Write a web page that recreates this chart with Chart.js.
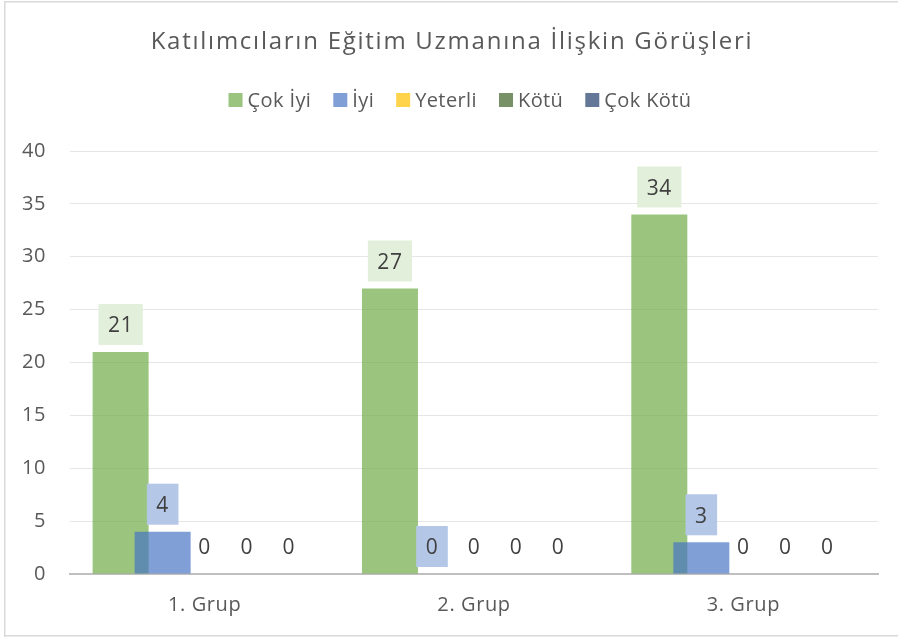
<!DOCTYPE html>
<html>
<head>
<meta charset="utf-8">
<script src="https://cdn.jsdelivr.net/npm/chart.js@4/dist/chart.umd.min.js"></script>
<style>
  html, body { margin: 0; padding: 0; background: #ffffff; }
  #wrap { position: relative; width: 898px; height: 638px; }
</style>
</head>
<body>
<div id="wrap"><canvas id="c" width="898" height="638"></canvas></div>
<script>
const chartTitle = "Katılımcıların Eğitim Uzmanına İlişkin Görüşleri";
const categories = ["1. Grup", "2. Grup", "3. Grup"];
const seriesNames = ["Çok İyi", "İyi", "Yeterli", "Kötü", "Çok Kötü"];
const cokIyi = [21, 27, 34];
const iyi = [4, 0, 3];
const yeterli = [0, 0, 0];
const kotu = [0, 0, 0];
const cokKotu = [0, 0, 0];
const yTicks = [0, 5, 10, 15, 20, 25, 30, 35, 40];

const FONT = "'Open Sans', 'Noto Sans', sans-serif";
const TEXT = "#595959";

const fills = [
  "rgba(112,173,71,0.70)",
  "rgba(68,114,196,0.68)",
  "rgba(255,192,0,0.70)",
  "rgba(61,97,36,0.70)",
  "rgba(34,61,110,0.70)"
];
const labelBgs = ["#E2EFDA", "#B4C7E7", null, null, null];
const values = [cokIyi, iyi, yeterli, kotu, cokKotu];

const datasets = seriesNames.map((name, i) => ({
  label: name,
  data: values[i],
  backgroundColor: fills[i],
  borderWidth: 0,
  categoryPercentage: 0.78,
  barPercentage: 1.333,
  labelBg: labelBgs[i]
}));

function drawValueLabels(chart) {
  const ctx = chart.ctx;
  ctx.save();
  ctx.letterSpacing = '0.6px';
  ctx.font = "21px " + FONT;
  ctx.textAlign = 'center';
  ctx.textBaseline = 'middle';
  chart.data.datasets.forEach((ds, di) => {
    const meta = chart.getDatasetMeta(di);
    meta.data.forEach((el, i) => {
      const txt = String(ds.data[i]);
      const tw = ctx.measureText(txt).width;
      const w = tw + 19, h = 41;
      const top = el.y - 7 - h;
      if (ds.labelBg) {
        ctx.fillStyle = ds.labelBg;
        ctx.fillRect(el.x - w / 2, top, w, h);
      }
      ctx.fillStyle = '#404040';
      ctx.fillText(txt, el.x, top + h / 2 + 2);
    });
  });
  ctx.restore();
}

const frame = {
  id: 'frame',
  beforeUpdate(chart) { chart.ctx.letterSpacing = '0.6px'; },
  beforeDraw(chart) {
    const ctx = chart.ctx;
    ctx.letterSpacing = '0.6px';
    ctx.save();
    ctx.fillStyle = '#ffffff';
    ctx.fillRect(0, 0, chart.width, chart.height);
    ctx.fillStyle = '#D9D9D9';
    ctx.fillRect(4, 1, chart.width, 1.5);
    ctx.fillRect(4, 1, 1.5, 636);
    ctx.fillRect(4, 635, chart.width, 1.5);
    ctx.restore();
  },
  beforeDatasetsDraw(chart) {
    // draw in series order so later series sit on top of earlier ones
    for (let i = 0; i < chart.data.datasets.length; i++) {
      const meta = chart.getDatasetMeta(i);
      if (meta.visible !== false) meta.controller.draw();
    }
    drawValueLabels(chart);
    return false;
  }
};

const headerPlugin = {
  id: 'header',
  afterDraw(chart) {
    const ctx = chart.ctx;
    ctx.save();
    ctx.font = "24px " + FONT;
    ctx.fillStyle = TEXT;
    ctx.textAlign = 'center';
    ctx.textBaseline = 'middle';
    ctx.letterSpacing = '1.75px';
    ctx.fillText(chartTitle, 452, 42);
    ctx.letterSpacing = '0.4px';
    ctx.font = "20px " + FONT;
    const box = 14, gapBox = 5, gapItem = 22;
    const items = chart.data.datasets.map(d => ({ label: d.label, color: d.backgroundColor, w: ctx.measureText(d.label).width }));
    const total = items.reduce((s, it) => s + box + gapBox + it.w, 0) + gapItem * (items.length - 1);
    let x = chart.width / 2 - total / 2 + 11;
    const y = 100;
    ctx.textAlign = 'left';
    items.forEach(it => {
      ctx.fillStyle = it.color;
      ctx.fillRect(x, y - box / 2, box, box);
      ctx.fillStyle = TEXT;
      ctx.fillText(it.label, x + box + gapBox, y + 1);
      x += box + gapBox + it.w + gapItem;
    });
    ctx.restore();
  }
};

new Chart(document.getElementById('c'), {
  type: 'bar',
  data: { labels: categories, datasets },
  options: {
    responsive: false,
    animation: false,
    devicePixelRatio: 1,
    layout: { padding: { top: 151, right: 20, left: 0, bottom: 0 } },
    plugins: { legend: { display: false }, title: { display: false }, tooltip: { enabled: false } },
    scales: {
      x: {
        grid: { display: false, drawTicks: false },
        border: { display: true, color: '#BFBFBF', width: 2 },
        ticks: { color: TEXT, font: { family: FONT, size: 20 }, padding: 19 },
        afterFit(s) { s.height = 64; }
      },
      y: {
        min: 0, max: 40,
        afterBuildTicks(s) { s.ticks = yTicks.map(v => ({ value: v })); },
        grid: {
          drawTicks: false,
          color: ctx => ctx.tick && ctx.tick.value === 0 ? 'rgba(0,0,0,0)' : '#E6E6E6',
          lineWidth: 1
        },
        border: { display: false },
        ticks: { color: TEXT, font: { family: FONT, size: 20 }, padding: 24 },
        afterFit(s) { s.width = 70; }
      }
    }
  },
  plugins: [frame, headerPlugin]
});
</script>
</body>
</html>
